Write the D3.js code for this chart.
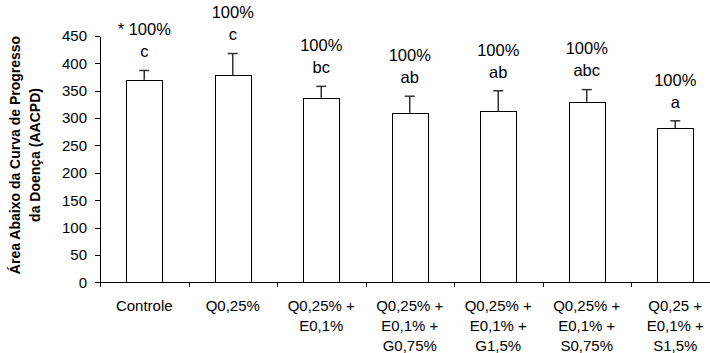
<!DOCTYPE html>
<html>
<head>
<meta charset="utf-8">
<script src="https://cdn.jsdelivr.net/npm/d3@7"></script>
<style>
  html, body { margin: 0; padding: 0; background: #fff; }
  svg { display: block; font-family: Arial, "Liberation Sans", sans-serif; }
</style>
</head>
<body>
<svg id="chart" width="710" height="353"></svg>
<script>
// Treatments (line breaks mark the wrapped axis labels)
const categories = [
  "Controle",
  "Q0,25%",
  "Q0,25% +\nE0,1%",
  "Q0,25% +\nE0,1% +\nG0,75%",
  "Q0,25% +\nE0,1% +\nG1,5%",
  "Q0,25% +\nE0,1% +\nS0,75%",
  "Q0,25 +\nE0,1% +\nS1,5%"
];
// AACPD mean and its error (upper bar only)
const means = [370, 378, 337, 310, 313, 330, 282];
const errors = [17, 40, 21, 30, 37, 22, 13];
// Labels above each bar
const percentLabels = ["* 100%", "100%", "100%", "100%", "100%", "100%", "100%"];
const letterLabels = ["c", "c", "bc", "ab", "ab", "abc", "a"];
const yTicks = [0, 50, 100, 150, 200, 250, 300, 350, 400, 450];
const yTitle = ["Área Abaixo da Curva de Progresso", "da Doença (AACPD)"];

const data = categories.map((c, i) => ({
  cat: c, mean: means[i], err: errors[i], pct: percentLabels[i], letter: letterLabels[i]
}));

const svg = d3.select("#chart");
const plotLeft = 100, plotRight = 719.5, plotTop = 36, plotBottom = 282.3;

const y = d3.scaleLinear().domain([0, 450]).range([plotBottom, plotTop]);
// one slot per treatment (axis ticks sit on slot boundaries)
const xCat = d3.scaleBand().domain(categories).range([plotLeft, plotRight]).padding(0);
// bars occupy the middle of each slot
const x = d3.scaleBand().domain(categories).range([plotLeft, plotRight])
  .paddingInner(0.593).paddingOuter(0.2965);

// Y axis
const yAxis = svg.append("g")
  .attr("transform", `translate(${plotLeft},0)`)
  .call(d3.axisLeft(y).tickValues(yTicks).tickSize(5).tickSizeOuter(0).tickPadding(8));
yAxis.select(".domain").attr("stroke", "#000").attr("shape-rendering", "crispEdges");
yAxis.selectAll(".tick line").attr("stroke", "#000").attr("shape-rendering", "crispEdges");
yAxis.selectAll(".tick text").attr("font-size", 15).attr("fill", "#000")
  .attr("font-family", "Arial, 'Liberation Sans', sans-serif");

// Bars
svg.append("g").selectAll("rect").data(data).join("rect")
  .attr("x", d => Math.round(x(d.cat)) + 0.5)
  .attr("y", d => Math.round(y(d.mean)) + 0.5)
  .attr("width", x.bandwidth())
  .attr("height", d => Math.round(y(0)) - Math.round(y(d.mean)))
  .attr("fill", "#fff")
  .attr("stroke", "#000")
  .attr("stroke-width", 1);

// Error bars
const eb = svg.append("g").attr("stroke", "#333").attr("stroke-width", 1.5);
data.forEach(d => {
  const cx = x(d.cat) + x.bandwidth() / 2;
  eb.append("line").attr("x1", cx).attr("x2", cx)
    .attr("y1", y(d.mean)).attr("y2", y(d.mean + d.err));
  eb.append("line").attr("x1", cx - 5).attr("x2", cx + 5)
    .attr("y1", y(d.mean + d.err)).attr("y2", y(d.mean + d.err));
});

// X axis line and slot ticks
svg.append("line").attr("x1", plotLeft).attr("x2", plotRight)
  .attr("y1", Math.round(plotBottom) + 0.5).attr("y2", Math.round(plotBottom) + 0.5)
  .attr("stroke", "#000");
svg.append("g").selectAll("line")
  .data(categories.map(c => xCat(c)).concat([plotRight]))
  .join("line")
  .attr("x1", d => Math.round(d) + 0.5).attr("x2", d => Math.round(d) + 0.5)
  .attr("y1", Math.round(plotBottom)).attr("y2", Math.round(plotBottom) + 5)
  .attr("stroke", "#000");

// Category labels
const catLabels = svg.append("g").attr("font-size", 15).attr("fill", "#000")
  .attr("text-anchor", "middle");
data.forEach(d => {
  const cx = xCat(d.cat) + xCat.bandwidth() / 2;
  const t = catLabels.append("text").attr("x", cx).attr("y", 311);
  d.cat.split("\n").forEach((line, i) => {
    t.append("tspan").attr("x", cx).attr("dy", i === 0 ? 0 : 20).text(line);
  });
});

// Percent and significance letters above the error bars
const ann = svg.append("g").attr("font-size", 16.5).attr("fill", "#000")
  .attr("text-anchor", "middle");
data.forEach(d => {
  const cx = x(d.cat) + x.bandwidth() / 2;
  const cap = y(d.mean + d.err);
  ann.append("text").attr("x", cx).attr("y", cap - 41).attr("dy", "0.35em").text(d.pct);
  ann.append("text").attr("x", cx).attr("y", cap - 19).attr("dy", "0.35em").text(d.letter);
});

// Y axis title (two lines, rotated)
const yt = svg.append("text")
  .attr("transform", "translate(20,155) rotate(-90)")
  .attr("text-anchor", "middle")
  .attr("font-size", 14).attr("font-weight", "bold").attr("fill", "#000");
yTitle.forEach((line, i) => {
  yt.append("tspan").attr("x", 0).attr("dy", i === 0 ? 0 : 20).text(line);
});
</script>
</body>
</html>
